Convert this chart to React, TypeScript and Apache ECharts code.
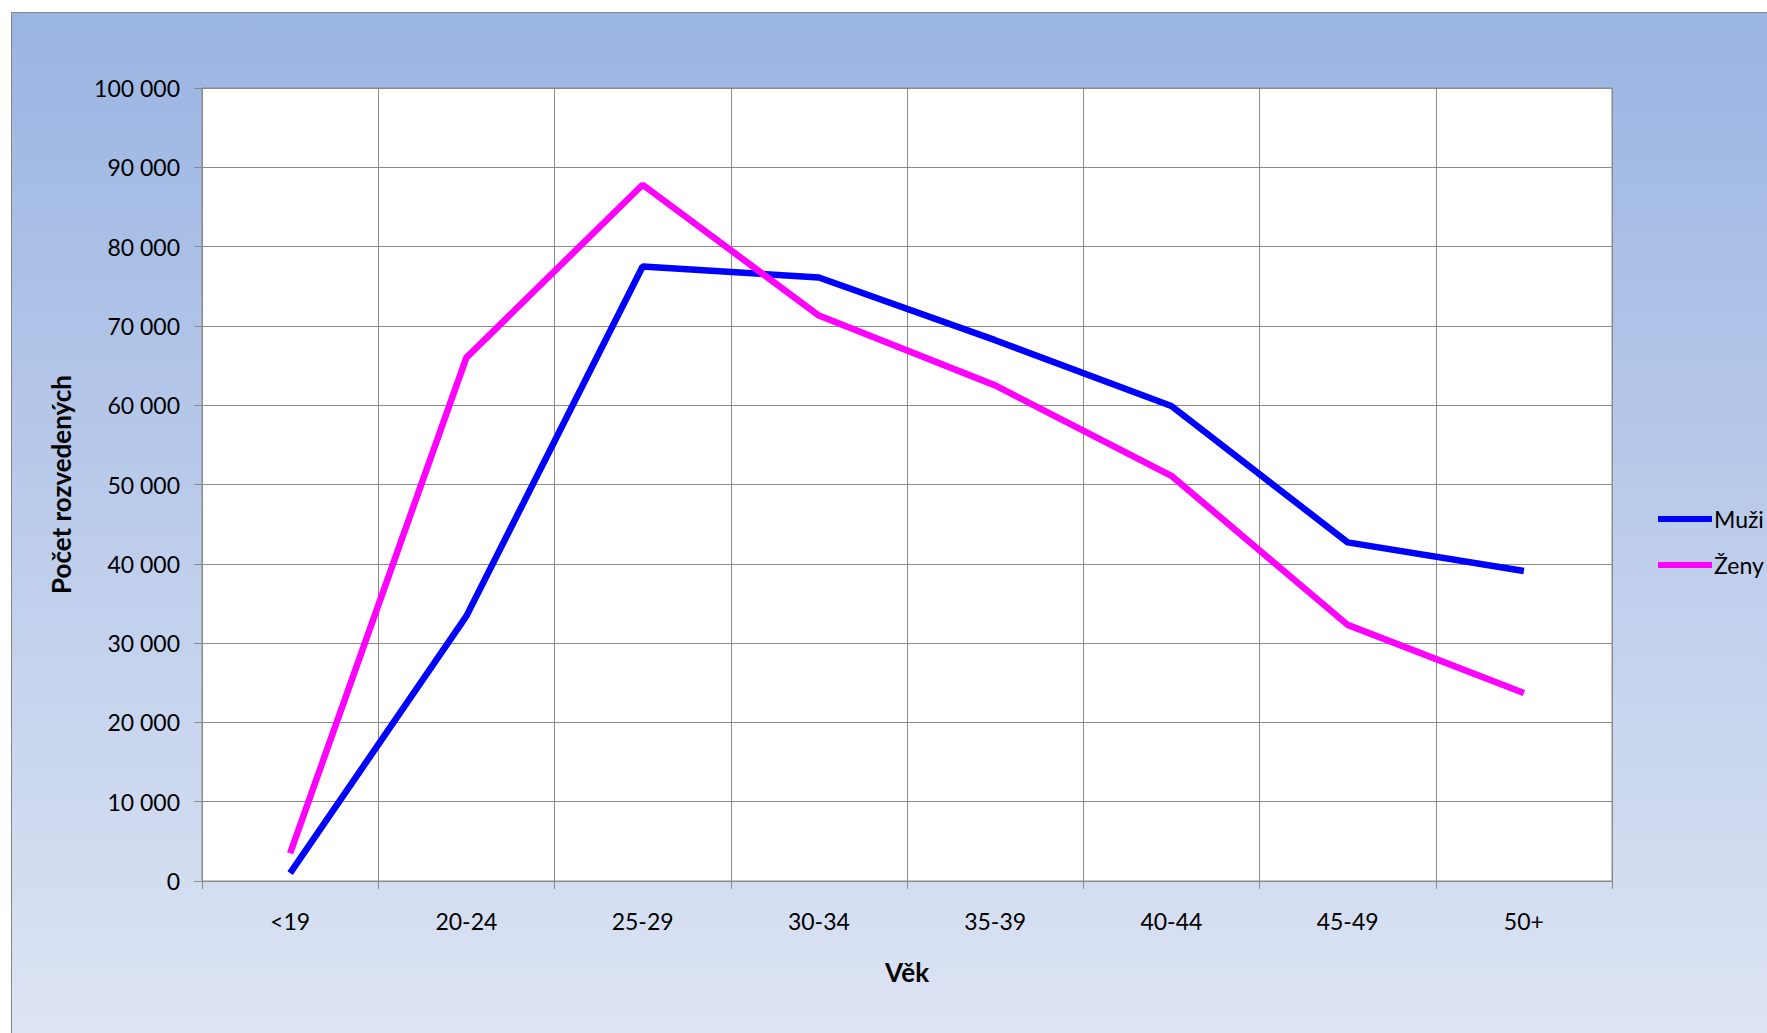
import React, { useEffect, useRef } from "react";
import * as echarts from "echarts";

const categories = ["<19", "20-24", "25-29", "30-34", "35-39", "40-44", "45-49", "50+"];
const muzi = [1000, 33400, 77500, 76100, 68200, 59900, 42700, 39100];
const zeny = [3500, 66000, 87800, 71300, 62500, 51100, 32300, 23700];
const seriesNames = ["Muži", "Ženy"];
const yTitle = "Počet rozvedených";
const xTitle = "Věk";

const FONT = "Lato, 'Open Sans', sans-serif";

function fmt(v: number): string {
  return String(v).replace(/\B(?=(\d{3})+(?!\d))/g, " ");
}

export default function App() {
  const ref = useRef<HTMLDivElement>(null);
  useEffect(() => {
    if (!ref.current) return;
    const chart = echarts.init(ref.current, undefined, { renderer: "svg" });
    const gray = "#8a8a8a";
    chart.setOption({
      animation: false,
      backgroundColor: "#ffffff",
      textStyle: { fontFamily: FONT, color: "#000" },
      graphic: [
        {
          type: "rect",
          z: -10,
          silent: true,
          shape: { x: 11.5, y: 12.5, width: 1800, height: 1100 },
          style: {
            fill: new echarts.graphic.LinearGradient(0, 0, 0, 1, [
              { offset: 0, color: "#9ab4e2" },
              { offset: 1, color: "#e2e8f5" },
            ]),
            stroke: "#858585",
            lineWidth: 1,
          },
        },
      ],
      grid: {
        left: 202,
        top: 88,
        width: 1410,
        height: 793,
        show: true,
        backgroundColor: "#ffffff",
        borderColor: gray,
        borderWidth: 1,
      },
      legend: {
        orient: "vertical",
        left: 1653,
        top: 501,
        data: seriesNames,
        icon: "rect",
        itemWidth: 54,
        itemHeight: 6,
        itemGap: 20,
        textStyle: { fontFamily: FONT, fontSize: 23, color: "#000", lineHeight: 26, padding: [0, 0, 0, -3] },
      },
      xAxis: {
        type: "category",
        data: categories,
        boundaryGap: true,
        name: xTitle,
        nameLocation: "middle",
        nameGap: 78,
        nameTextStyle: { fontFamily: FONT, fontSize: 26, fontWeight: "bold", color: "#000" },
        axisLine: { show: true, lineStyle: { color: gray, width: 1 } },
        axisTick: { show: true, length: 8, lineStyle: { color: gray } },
        axisLabel: { fontFamily: FONT, fontSize: 23, color: "#000", margin: 28 },
        splitLine: { show: true, lineStyle: { color: gray, width: 1 } },
      },
      yAxis: {
        type: "value",
        min: 0,
        max: 100000,
        interval: 10000,
        name: yTitle,
        nameLocation: "middle",
        nameGap: 128,
        nameRotate: 90,
        nameTextStyle: { fontFamily: FONT, fontSize: 26, fontWeight: "bold", color: "#000" },
        axisLine: { show: true, lineStyle: { color: gray, width: 1 } },
        axisTick: { show: true, length: 8, lineStyle: { color: gray } },
        axisLabel: { fontFamily: FONT, fontSize: 23, color: "#000", margin: 22, formatter: (v: number) => fmt(v) },
        splitLine: { show: true, lineStyle: { color: gray, width: 1 } },
      },
      series: [
        {
          name: seriesNames[0],
          type: "line",
          data: muzi,
          showSymbol: false,
          symbol: "none",
          lineStyle: { color: "#0000ff", width: 6.5 },
          itemStyle: { color: "#0000ff" },
        },
        {
          name: seriesNames[1],
          type: "line",
          data: zeny,
          showSymbol: false,
          symbol: "none",
          lineStyle: { color: "#ff00ff", width: 6.5 },
          itemStyle: { color: "#ff00ff" },
        },
      ],
    });
    return () => chart.dispose();
  }, []);
  return (
    <div
      ref={ref}
      style={{ position: "fixed", left: 0, top: 0, width: 1767, height: 1033 }}
    />
  );
}
